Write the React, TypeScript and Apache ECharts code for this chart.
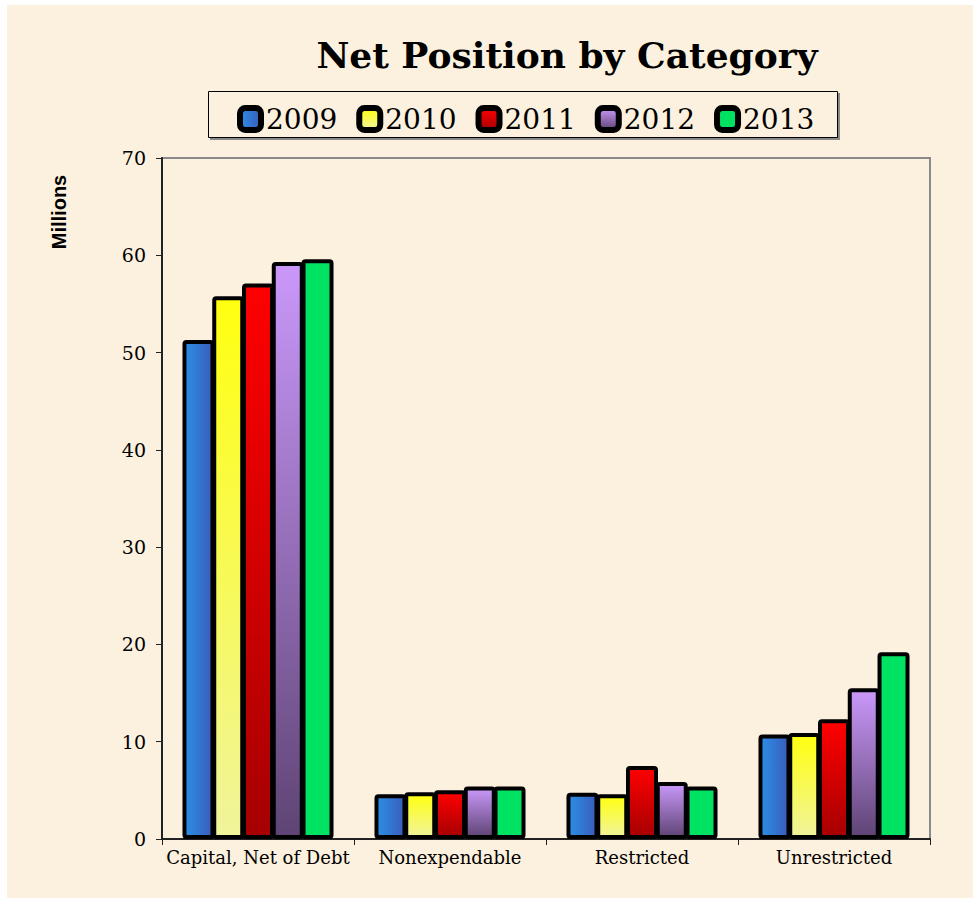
import React, { useEffect, useRef } from "react";
import * as echarts from "echarts";

const categories = ["Capital, Net of Debt", "Nonexpendable", "Restricted", "Unrestricted"];
const years = ["2009", "2010", "2011", "2012", "2013"];
const v2009 = [51.3, 4.6, 4.75, 10.75];
const v2010 = [55.8, 4.8, 4.6, 10.9];
const v2011 = [57.1, 5.0, 7.5, 12.3];
const v2012 = [59.3, 5.4, 5.85, 15.5];
const v2013 = [59.6, 5.4, 5.4, 19.2];
const yTicks = { min: 0, max: 70, interval: 10 };

const SERIF = "'DejaVu Serif', 'Liberation Serif', serif";

export default function App() {
  const ref = useRef<HTMLDivElement>(null);
  useEffect(() => {
    if (!ref.current) return;
    const chart = echarts.init(ref.current, null, { renderer: "svg" });
    const G = echarts.graphic.LinearGradient;
    const colors = [
      new G(0, 0, 1, 0, [
        { offset: 0, color: "#2b8fe8" },
        { offset: 1, color: "#3a5cba" },
      ]),
      new G(0, 0, 0, 1, [
        { offset: 0, color: "#ffff10" },
        { offset: 1, color: "#f0f49c" },
      ]),
      new G(0, 0, 0, 1, [
        { offset: 0, color: "#ff0000" },
        { offset: 1, color: "#a60000" },
      ]),
      new G(0, 0, 0, 1, [
        { offset: 0, color: "#ca98fa" },
        { offset: 1, color: "#5e4474" },
      ]),
      "#00e262",
    ];
    const data = [v2009, v2010, v2011, v2012, v2013];
    chart.setOption({
      animation: false,
      backgroundColor: "#ffffff",
      graphic: [
        {
          type: "rect",
          z: -10,
          silent: true,
          shape: { x: 7, y: 5, width: 973, height: 898 },
          style: { fill: "#fcf0de" },
        },
        {
          type: "text",
          x: 567,
          y: 55,
          style: {
            text: "Net Position by Category",
            textAlign: "center",
            textVerticalAlign: "middle",
            font: `bold 36px ${SERIF}`,
            fill: "#000",
          },
        },
        {
          type: "rect",
          shape: { x: 210, y: 93, width: 630, height: 47 },
          style: { fill: "#8a8a8a" },
          z: 1,
        },
        {
          type: "rect",
          shape: { x: 208.5, y: 91.5, width: 629, height: 46 },
          style: { fill: "#fcf0de", stroke: "#000", lineWidth: 1 },
          z: 2,
        },
        {
          type: "text",
          x: 59,
          y: 212,
          rotation: Math.PI / 2,
          style: {
            text: "Millions",
            textAlign: "center",
            textVerticalAlign: "middle",
            font: "bold 20px 'Liberation Sans', Arial, sans-serif",
            fill: "#000",
          },
        },
      ],
      legend: {
        data: years,
        left: 232,
        top: 100,
        itemWidth: 21,
        itemHeight: 22,
        itemGap: 19,
        z: 5,
        textStyle: {
          fontFamily: SERIF,
          fontSize: 28,
          color: "#000",
          padding: [0, 0, 0, 0],
        },
        itemStyle: { borderColor: "#000", borderWidth: 6 },
      },
      grid: {
        left: 162,
        top: 158,
        right: 43,
        bottom: 59,
        show: true,
        borderColor: "#8a8a8a",
        borderWidth: 2,
        backgroundColor: "transparent",
      },
      xAxis: {
        type: "category",
        data: categories,
        axisLine: { lineStyle: { color: "#222", width: 2 } },
        axisTick: { show: true, length: 6, lineStyle: { color: "#222", width: 1 } },
        axisLabel: {
          interval: 0,
          fontFamily: SERIF,
          fontSize: 18,
          color: "#000",
          margin: 9,
        },
      },
      yAxis: {
        type: "value",
        min: yTicks.min,
        max: yTicks.max,
        interval: yTicks.interval,
        splitLine: { show: false },
        axisLine: { show: true, lineStyle: { color: "#222", width: 2 } },
        axisTick: { show: true, length: 6, lineStyle: { color: "#222", width: 1 } },
        axisLabel: {
          fontFamily: SERIF,
          fontSize: 19,
          color: "#000",
          margin: 16,
        },
      },
      series: years.map((y, i) => ({
        name: y,
        type: "bar",
        data: data[i],
        barWidth: 32,
        barGap: "-7%",
        itemStyle: {
          color: colors[i],
          borderColor: "#000",
          borderWidth: 4,
          borderRadius: 2,
        },
      })),
    });
    return () => chart.dispose();
  }, []);
  return (
    <div
      ref={ref}
      style={{ position: "absolute", left: 0, top: 0, width: 973, height: 898 }}
    />
  );
}
